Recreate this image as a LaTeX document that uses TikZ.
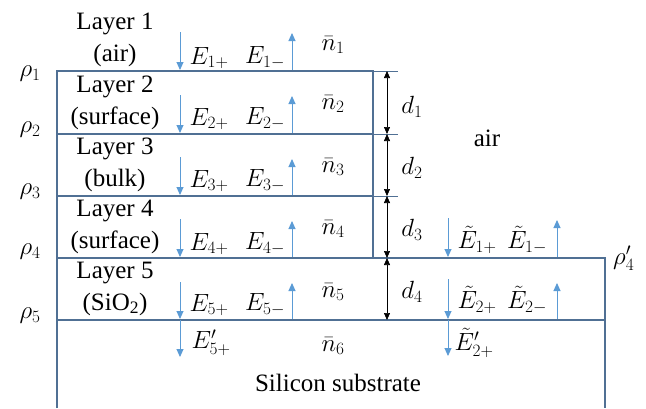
\documentclass[tikz,border=0pt]{standalone}
\usepackage{fontspec}
\setmainfont{Liberation Serif}
\usetikzlibrary{arrows.meta}
\definecolor{wallc}{RGB}{80,112,148}
\definecolor{arrc}{RGB}{91,155,213}
\begin{document}
\begin{tikzpicture}[x=1pt,y=-1pt,font=\fontsize{25}{28}\selectfont,
  wall/.style={draw=wallc,line width=1.5pt},
  ext/.style={draw=wallc,line width=1pt},
  dimarr/.style={draw=black,line width=0.7pt,{Triangle[length=7pt,width=6pt]}-{Triangle[length=7pt,width=6pt]}},
  wave/.style={draw=arrc,line width=0.9pt,-{Triangle[length=8pt,width=7pt]}},
  lbl/.style={inner sep=0pt}]
\useasboundingbox (0,0) rectangle (646,408);
% structure
\draw[wall] (57,408) -- (57,71) -- (373,71) -- (373,258);
\draw[wall] (57,134) -- (373,134);
\draw[wall] (57,196) -- (373,196);
\draw[wall] (57,258) -- (605,258) -- (605,408);
\draw[wall] (57,320) -- (605,320);
\draw[ext] (373,71) -- (398,71);
\draw[ext] (373,134) -- (398,134);
\draw[ext] (373,196) -- (398,196);
% dimension arrows
\coordinate (r1) at (387,71); \coordinate (r2) at (387,134);
\coordinate (r3) at (387,196); \coordinate (r4) at (387,258);
\coordinate (r5) at (387,320);
\draw[dimarr] (r1) -- (r2);
\draw[dimarr] (r2) -- (r3);
\draw[dimarr] (r3) -- (r4);
\draw[dimarr] (r4) -- (r5);
\node[lbl] (d1) at (412,107) {$d_1$};
\node[lbl] (d2) at (412,168) {$d_2$};
\node[lbl] (d3) at (412,230) {$d_3$};
\node[lbl] (d4) at (412,292) {$d_4$};
% rho labels
\node[lbl] (p1) at (30,74) {$\rho_1$};
\node[lbl] (p2) at (30,130) {$\rho_2$};
\node[lbl] (p3) at (30,192) {$\rho_3$};
\node[lbl] (p4) at (30,252) {$\rho_4$};
\node[lbl] (p5) at (30,316) {$\rho_5$};
\node[lbl,anchor=west] (p4p) at (613,258) {$\rho_4'$};
% layer texts
\node[lbl] (l1a) at (115,24) {Layer 1};
\node[lbl] (l1b) at (115,55) {(air)};
\node[lbl] (l2a) at (115,87) {Layer 2};
\node[lbl] (l2b) at (115,118) {(surface)};
\node[lbl] (l3a) at (115,149) {Layer 3};
\node[lbl] (l3b) at (115,180) {(bulk)};
\node[lbl] (l4a) at (115,211) {Layer 4};
\node[lbl] (l4b) at (115,242) {(surface)};
\node[lbl] (l5a) at (115,273) {Layer 5};
\node[lbl] (l5b) at (115,304) {(SiO\textsubscript{2})};
\node[lbl] (sub) at (338,383) {Silicon substrate};
\node[lbl] (air) at (487,138) {air};
% left field arrows
\draw[wave] (180,32) -- (180,70);
\draw[wave] (292,70) -- (292,33);
\draw[wave] (180,95) -- (180,133);
\draw[wave] (292,133) -- (292,96);
\draw[wave] (180,157) -- (180,195);
\draw[wave] (292,195) -- (292,159);
\draw[wave] (180,219) -- (180,257);
\draw[wave] (292,257) -- (292,221);
\draw[wave] (180,282) -- (180,319);
\draw[wave] (292,319) -- (292,283);
\draw[wave] (180,320) -- (180,357);
\node[lbl] (e1p) at (209,58) {$E_{1+}$};
\node[lbl] (e1m) at (265,58) {$E_{1-}$};
\node[lbl] (e2p) at (209,119) {$E_{2+}$};
\node[lbl] (e2m) at (265,119) {$E_{2-}$};
\node[lbl] (e3p) at (209,181) {$E_{3+}$};
\node[lbl] (e3m) at (265,181) {$E_{3-}$};
\node[lbl] (e4p) at (209,244) {$E_{4+}$};
\node[lbl] (e4m) at (265,244) {$E_{4-}$};
\node[lbl] (e5p) at (209,305) {$E_{5+}$};
\node[lbl] (e5m) at (265,305) {$E_{5-}$};
\node[lbl] (e5t) at (211,343) {$E'_{5+}$};
% n labels
\node[lbl] (n1) at (333,45) {$\bar{n}_1$};
\node[lbl] (n2) at (333,104) {$\bar{n}_2$};
\node[lbl] (n3) at (333,167) {$\bar{n}_3$};
\node[lbl] (n4) at (333,229) {$\bar{n}_4$};
\node[lbl] (n5) at (333,292) {$\bar{n}_5$};
\node[lbl] (n6) at (333,346) {$\bar{n}_6$};
% right field arrows
\draw[wave] (448,218) -- (448,257);
\draw[wave] (557,257) -- (557,220);
\draw[wave] (448,279) -- (448,319);
\draw[wave] (557,319) -- (557,283);
\draw[wave] (448,320) -- (448,356);
\node[lbl] (t1p) at (477,240) {$\tilde{E}_{1+}$};
\node[lbl] (t1m) at (527,240) {$\tilde{E}_{1-}$};
\node[lbl] (t2p) at (477,300) {$\tilde{E}_{2+}$};
\node[lbl] (t2m) at (527,300) {$\tilde{E}_{2-}$};
\node[lbl] (t2t) at (474,343) {$\tilde{E}'_{2+}$};
\end{tikzpicture}
\end{document}
